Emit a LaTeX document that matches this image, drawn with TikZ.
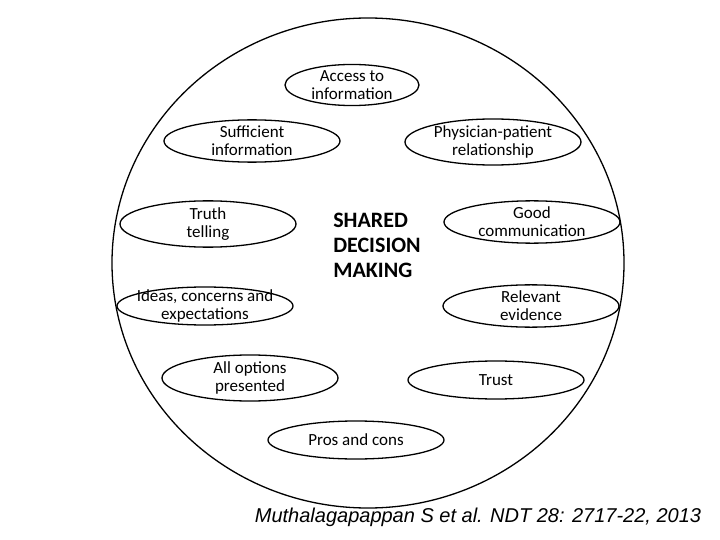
\documentclass[tikz,border=0pt]{standalone}
\usepackage{fontspec}
\setmainfont{Carlito}
\newfontfamily\arialf{Liberation Sans}
\usetikzlibrary{shapes.geometric}
\begin{document}
\begin{tikzpicture}[x=1pt,y=-1pt,
  oval/.style={draw,line width=1.3pt,ellipse,minimum width=176pt,minimum height=38pt,inner sep=0pt,align=center,font=\fontsize{17}{18}\selectfont}]
\useasboundingbox (0,0) rectangle (720,540);
\node[draw,line width=1.3pt,ellipse,minimum width=512pt,minimum height=490pt] (big) at (368,263) {};
\node[oval,minimum width=134pt] (a) at (352,85) {Access to\\information};
\node[oval] (b) at (252,141) {Sufficient\\information};
\node[oval] (c) at (493,142) {Physician-patient\\relationship};
\node[oval] (d) at (208,224) {Truth\\telling};
\node[oval] (e) at (532,222) {Good\\communication};
\node[oval,inner xsep=-30pt,inner ysep=-4pt] (f) at (205,306) {Ideas, concerns and\\expectations};
\node[oval] (g) at (531,306) {Relevant\\evidence};
\node[oval] (h) at (250,378) {All options\\presented};
\node[oval] (i) at (496,380) {Trust};
\node[oval] (j) at (356,440) {Pros and cons};
\node[font=\bfseries\fontsize{22}{25}\selectfont,align=left] (t) at (377,245) {SHARED\\DECISION\\MAKING};
\node[font=\arialf\itshape\fontsize{20}{22}\selectfont] (cite) at (478,517) {Muthalagapappan S et al. NDT 28: 2717-22, 2013};
\end{tikzpicture}
\end{document}
